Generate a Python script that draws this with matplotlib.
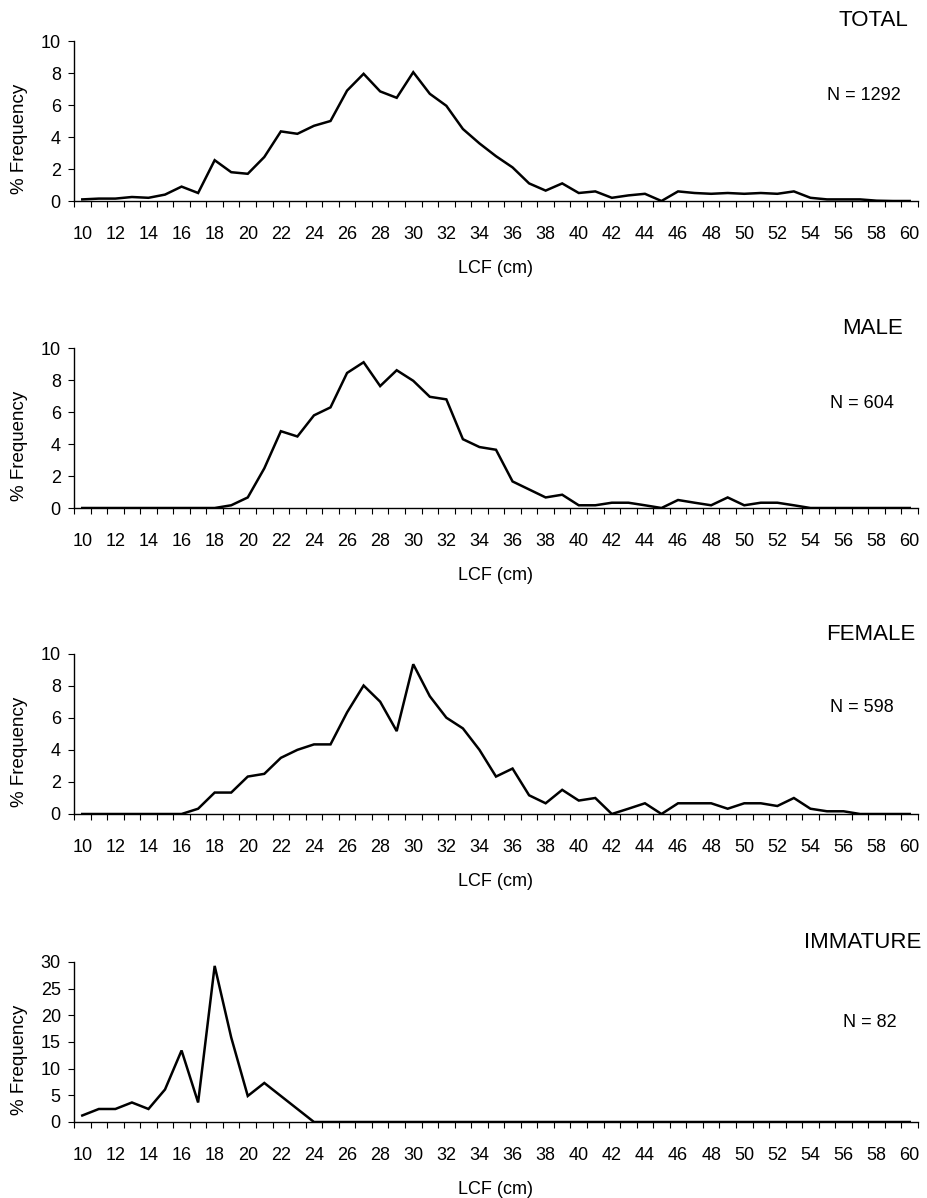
import numpy as np
import matplotlib
matplotlib.use("Agg")
import matplotlib.pyplot as plt

plt.rcParams['font.family'] = ['Liberation Sans', 'DejaVu Sans']

# LCF classes (cm)
lcf = list(range(10, 61))

# % frequency per class
total = [0.1, 0.15, 0.15, 0.25, 0.2, 0.4, 0.9, 0.5, 2.55, 1.8,
         1.7, 2.75, 4.35, 4.2, 4.7, 5.0, 6.9, 7.95, 6.85, 6.45,
         8.05, 6.7, 5.95, 4.5, 3.6, 2.8, 2.1, 1.1, 0.65, 1.1,
         0.5, 0.6, 0.2, 0.35, 0.45, 0.0, 0.6, 0.5, 0.45, 0.5,
         0.45, 0.5, 0.45, 0.6, 0.2, 0.1, 0.1, 0.1, 0.02, 0.0, 0.0]

male = [0, 0, 0, 0, 0, 0, 0, 0, 0, 0.17,
        0.66, 2.48, 4.80, 4.47, 5.79, 6.29, 8.44, 9.11, 7.62, 8.61,
        7.95, 6.95, 6.79, 4.30, 3.81, 3.64, 1.66, 1.16, 0.66, 0.83,
        0.17, 0.17, 0.33, 0.33, 0.17, 0, 0.50, 0.33, 0.17, 0.66,
        0.17, 0.33, 0.33, 0.17, 0, 0, 0, 0, 0, 0, 0]

female = [0, 0, 0, 0, 0, 0, 0, 0.33, 1.34, 1.34,
          2.34, 2.51, 3.51, 4.01, 4.35, 4.35, 6.35, 8.03, 7.02, 5.18,
          9.36, 7.36, 6.02, 5.35, 4.01, 2.34, 2.84, 1.17, 0.67, 1.51,
          0.84, 1.00, 0, 0.33, 0.67, 0, 0.67, 0.67, 0.67, 0.33,
          0.67, 0.67, 0.50, 1.00, 0.33, 0.17, 0.17, 0, 0, 0, 0]

immature = [1.22, 2.44, 2.44, 3.66, 2.44, 6.10, 13.41, 3.66, 29.27, 15.85,
            4.88, 7.32, 4.88, 2.44, 0, 0, 0, 0, 0, 0,
            0, 0, 0, 0, 0, 0, 0, 0, 0, 0,
            0, 0, 0, 0, 0, 0, 0, 0, 0, 0,
            0, 0, 0, 0, 0, 0, 0, 0, 0, 0, 0]

titles = ["TOTAL", "MALE", "FEMALE", "IMMATURE"]
n_labels = ["N = 1292", "N = 604", "N = 598", "N = 82"]
series = [total, male, female, immature]
ymax = [10, 10, 10, 30]
ystep = [2, 2, 2, 5]

W, H = 928, 1198
fig = plt.figure(figsize=(W / 100, H / 100), dpi=100)

left, right = 74, 918
tops = [41, 348, 654, 962]
ph = 160
title_x = [873, 873, 871, 863]
n_x = [864, 862, 862, 870]
n_dy = [59, 60, 58, 65]

def fx(px):
    return px / W

def fy(py):
    return 1 - py / H

for i in range(4):
    top = tops[i]
    bot = top + ph
    ax = fig.add_axes([fx(left), fy(bot), fx(right - left), ph / H])
    ax.plot(lcf, series[i], color='black', lw=1.8, solid_joinstyle='miter')
    ax.set_xlim(9.5, 60.5)
    ax.set_ylim(0, ymax[i])
    ax.set_yticks(np.arange(0, ymax[i] + 1, ystep[i]))
    ax.set_xticks(np.arange(9.5, 61, 1))
    ax.set_xticklabels([])
    ax.set_xticks(np.arange(10, 61, 2), minor=True)
    ax.set_xticklabels([str(v) for v in range(10, 61, 2)], minor=True, fontsize=13)
    ax.tick_params(axis='x', which='major', direction='out', length=4.5, width=0.8)
    ax.tick_params(axis='x', which='minor', length=0, pad=18)
    ax.tick_params(axis='y', direction='out', length=4.5, width=0.8, labelsize=13, pad=5)
    for s in ['top', 'right']:
        ax.spines[s].set_visible(False)
    for s in ['left', 'bottom']:
        ax.spines[s].set_linewidth(1.0)

    fig.text(fx(20), fy((top + bot) / 2 + 18), "% Frequency", rotation=90,
             ha='center', va='center', fontsize=13.5)
    fig.text(fx(496), fy(bot + 72), "LCF (cm)", ha='center', va='baseline', fontsize=13)
    fig.text(fx(title_x[i]), fy(top - 14.5), titles[i], ha='center', va='baseline', fontsize=16)
    fig.text(fx(n_x[i]), fy(top + n_dy[i]), n_labels[i], ha='center', va='baseline', fontsize=13)

fig.savefig("out.png", dpi=100)
